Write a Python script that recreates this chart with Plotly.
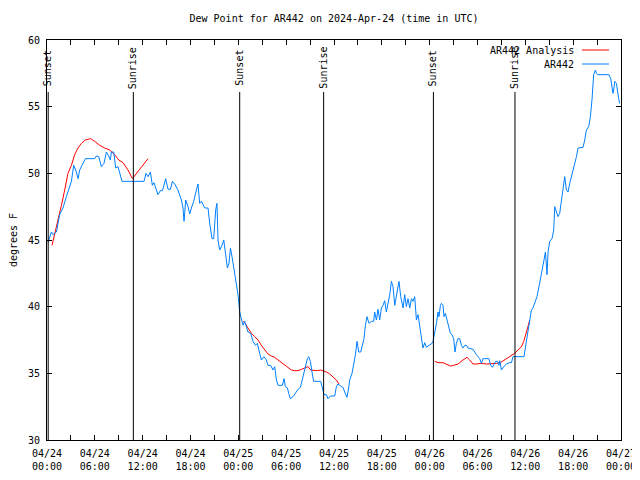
import pandas as pd
import plotly.graph_objects as go

START = pd.Timestamp("2024-04-24 00:00")

# AR442 observed dew point (hours since 04/24 00:00 UTC, degrees F)
obs_hours = [0.13, 0.55, 0.75, 1.18, 1.59, 2.0, 2.43, 2.85, 3.06, 3.35, 3.69, 3.89, 4.1, 4.39, 4.82, 5.98,
             6.2, 6.49, 6.82, 7.15, 7.45, 7.74, 7.95, 8.08, 8.37, 8.62, 8.91, 9.41, 12.17, 12.42, 12.67,
             12.97, 13.22, 13.42, 13.72, 13.92, 14.22, 14.48, 14.89, 15.18, 15.48, 15.73, 16.02, 16.43,
             16.86, 17.06, 17.19, 17.4, 17.69, 17.9, 18.11, 18.4, 18.74, 18.94, 19.15, 19.37, 19.78,
             20.2, 20.41, 20.7, 20.91, 21.16, 21.32, 21.45, 21.66, 21.95, 22.17, 22.42, 22.63, 22.83,
             23.01, 23.21, 23.55, 23.76, 23.96, 24.17, 24.39, 24.59, 24.8, 25.01, 25.21, 25.55, 25.84,
             26.14, 26.39, 26.68, 26.89, 27.22, 27.52, 27.72, 28.06, 28.35, 28.56, 28.78, 28.98, 29.53,
             29.73, 29.9, 30.16, 30.32, 30.53, 30.86, 31.2, 31.49, 31.79, 32.11, 32.33, 32.66, 32.83,
             33.04, 33.24, 33.45, 34.33, 34.55, 34.75, 35.05, 35.25, 35.55, 36.09, 36.3, 36.5, 36.93,
             37.13, 37.34, 37.63, 37.84, 37.97, 38.26, 38.51, 38.69, 38.89, 39.1, 39.35, 39.51, 39.76,
             39.94, 40.14, 40.39, 40.69, 40.98, 41.1, 41.32, 41.52, 41.73, 41.95, 42.15, 42.36, 42.57,
             42.77, 42.99, 43.2, 43.4, 43.62, 43.83, 44.03, 44.15, 44.37, 44.66, 44.87, 45.08, 45.28,
             45.5, 45.71, 45.91, 46.12, 46.34, 46.54, 46.75, 46.96, 47.16, 47.38, 47.59, 47.92, 48.22,
             48.42, 48.63, 48.85, 49.05, 49.17, 49.35, 49.47, 49.67, 49.8, 49.97, 50.17, 50.39, 50.6,
             50.8, 51.01, 51.18, 51.35, 51.56, 51.77, 51.98, 52.18, 52.4, 52.61, 52.81, 53.44, 53.86,
             54.28, 54.49, 54.69, 55.44, 55.66, 55.87, 56.07, 56.28, 56.5, 56.7, 56.79, 57.0, 57.29,
             57.63, 57.96, 58.26, 58.46, 59.84, 59.92, 60.13, 60.33, 60.55, 60.76, 60.96, 61.26, 61.46,
             61.68, 61.93, 62.14, 62.34, 62.52, 62.72, 62.85, 63.06, 63.35, 63.56, 63.69, 63.9, 64.1,
             64.31, 64.44, 64.73, 64.94, 65.15, 65.35, 65.57, 65.86, 66.11, 66.41, 66.61, 67.24, 67.45,
             67.66, 67.95, 68.16, 68.36, 68.57, 68.79, 68.91, 69.11, 70.49, 70.71, 70.87, 71.0, 71.12,
             71.21, 71.42, 71.55, 71.71, 71.83]
obs_values = [44.8, 45.6, 45.4, 45.6, 46.9, 47.4, 48.25, 49.0, 49.4, 50.6, 50.1, 49.6, 50.25, 50.6, 51.1, 51.1,
              51.3, 51.25, 50.5, 50.75, 51.6, 51.3, 51.0, 51.6, 51.6, 50.4, 50.5, 49.4, 49.4, 50.0, 49.75,
              50.1, 49.1, 49.3, 48.75, 48.4, 48.7, 48.7, 49.6, 48.8, 48.8, 49.4, 49.2, 48.75,
              48.0, 47.4, 46.4, 48.0, 47.5, 46.95, 47.4, 47.9, 48.75, 49.2, 47.75, 47.9, 47.4,
              47.4, 46.25, 45.1, 45.1, 47.25, 47.75, 45.0, 44.25, 44.6, 45.0, 43.75, 42.9, 43.25,
              44.4, 43.75, 42.5, 41.5, 40.9, 39.6, 39.0, 38.6, 38.9, 38.5, 38.1, 38.0, 37.4,
              37.1, 37.25, 36.5, 36.0, 36.25, 36.0, 35.6, 35.6, 35.25, 35.5, 34.5, 34.1, 34.1,
              34.6, 34.0, 33.9, 33.5, 33.1, 33.25, 33.55, 33.8, 33.95, 34.75, 35.5, 36.1, 36.25,
              35.9, 35.1, 34.4, 34.4, 33.95, 33.4, 33.4, 33.1, 33.3, 33.3, 34.0, 34.2, 34.0,
              33.95, 33.6, 33.2, 33.9, 34.5, 35.0, 35.75, 36.4, 37.4, 36.6, 36.6, 37.1, 37.6,
              38.6, 39.25, 38.75, 38.9, 38.9, 39.6, 39.0, 39.8, 39.0, 39.9, 40.1, 40.45, 39.6,
              40.25, 40.9, 41.9, 41.5, 40.1, 40.9, 41.4, 41.9, 40.75, 39.9, 40.9, 40.0, 40.6,
              39.9, 40.6, 40.4, 40.75, 39.0, 39.4, 38.5, 37.9, 36.9, 37.3, 36.95, 37.1, 37.2,
              37.4, 38.0, 38.75, 39.6, 39.25, 40.1, 40.25, 40.1, 39.25, 39.5, 39.0, 38.5, 38.0,
              37.9, 37.6, 36.6, 37.25, 37.6, 37.6, 37.1, 36.9, 37.1, 37.1, 36.9, 36.8, 36.4,
              36.1, 35.75, 36.1, 36.1, 35.6, 35.45, 35.7, 35.9, 35.9, 35.6, 35.95, 35.25, 35.5,
              35.7, 35.8, 35.8, 36.25, 36.25, 36.6, 37.4, 38.25, 39.0, 39.75, 39.9, 40.5, 40.75,
              41.4, 42.1, 42.9, 43.5, 44.1, 42.4, 44.1, 44.9, 45.1, 45.75, 47.5, 47.1, 46.75,
              47.0, 47.6, 49.0, 49.75, 48.75, 48.6, 49.25, 49.9, 50.5, 51.25, 51.9, 51.95, 52.5,
              53.25, 53.5, 54.25, 55.5, 57.4, 57.75, 57.5, 57.4, 57.4, 57.1, 56.5, 56.0, 56.4,
              56.9, 56.75, 56.0, 55.6, 55.25]

# AR442 Analysis (three separate runs, None = gap)
ana_hours = [0.63, 0.97, 1.38, 1.81, 2.22, 2.63, 3.06, 3.47, 3.89, 4.32, 4.82, 5.48, 5.98, 6.61, 7.24, 7.86,
             8.49, 8.99, 9.53, 10.16, 10.71, 11.21, 11.84, 12.67, None,
             24.59, 24.8, 25.21, 25.64, 26.05, 26.47, 26.89, 27.31, 27.72, 28.15, 28.56, 28.98, 29.4,
             29.82, 30.23, 30.66, 31.07, 31.49, 31.91, 32.33, 32.74, 33.08, 33.49, 33.92, 34.33, 34.62,
             35.05, 35.46, 35.88, 36.3, 36.63, None,
             48.63, 49.05, 49.67, 50.1, 50.6, 51.01, 51.56, 52.06, 52.68, 53.02, 53.44, 53.86, 54.49,
             55.12, 55.74, 56.37, 56.87, 57.41, 58.04, 58.66, 59.08, 59.51, 59.8, 60.13, 60.33, 60.55]
ana_values = [44.6, 45.4, 46.4, 47.6, 48.75, 50.0, 50.6, 51.4, 51.9, 52.25, 52.5, 52.6, 52.4, 52.1, 51.9, 51.75,
              51.4, 51.0, 50.8, 50.25, 49.6, 50.0, 50.5, 51.1, None,
              38.9, 38.8, 38.4, 38.0, 37.75, 37.5, 37.1, 36.75, 36.45, 36.3, 36.2, 36.0, 35.8,
              35.6, 35.4, 35.25, 35.2, 35.2, 35.3, 35.4, 35.5, 35.25, 35.2, 35.2, 35.25, 35.2,
              35.1, 34.95, 34.7, 34.5, 34.2, None,
              35.9, 35.8, 35.8, 35.7, 35.55, 35.6, 35.7, 35.95, 36.2, 36.0, 35.7, 35.7, 35.75,
              35.7, 35.7, 35.75, 35.8, 36.0, 36.25, 36.5, 36.75, 37.0, 37.4, 38.0, 38.5, 39.0]

# Sun events (hours since start)
sun_hours = [0.15, 10.83, 24.17, 34.7, 48.47, 58.7]
sun_labels = ["Sunset", "Sunrise", "Sunset", "Sunrise", "Sunset", "Sunrise"]

tick_hours = list(range(0, 73, 3))
tick_labels = ["04/24<br>00:00", "", "04/24<br>06:00", "", "04/24<br>12:00", "", "04/24<br>18:00", "",
               "04/25<br>00:00", "", "04/25<br>06:00", "", "04/25<br>12:00", "", "04/25<br>18:00", "",
               "04/26<br>00:00", "", "04/26<br>06:00", "", "04/26<br>12:00", "", "04/26<br>18:00", "",
               "04/27<br>00:00"]


def to_time(hours):
    return [None if h is None else START + pd.Timedelta(hours=h) for h in hours]


FONT = "DejaVu Sans Mono"
fig = go.Figure()
fig.add_trace(go.Scatter(x=to_time(ana_hours), y=ana_values, mode="lines",
                         line=dict(color="#ff0000", width=1), connectgaps=False,
                         name="AR442 Analysis", showlegend=False))
fig.add_trace(go.Scatter(x=to_time(obs_hours), y=obs_values, mode="lines",
                         line=dict(color="#0080ff", width=1), name="AR442", showlegend=False))

for h, lab in zip(sun_hours, sun_labels):
    t = START + pd.Timedelta(hours=h)
    fig.add_shape(type="line", xref="x", yref="paper", x0=t, x1=t, y0=0, y1=0.87,
                  line=dict(color="black", width=1))
    fig.add_annotation(x=t, y=0.93, xref="x", yref="paper", text=lab, textangle=-90,
                       showarrow=False, font=dict(family=FONT, size=10, color="black"),
                       xanchor="center", yanchor="middle")

# legend (gnuplot style: text then line sample)
for yp, name, col in [(0.975, "AR442 Analysis", "#ff0000"), (0.94, "AR442", "#0080ff")]:
    fig.add_annotation(x=0.922, y=yp, xref="paper", yref="paper", text=name, showarrow=False,
                       xanchor="right", yanchor="middle", font=dict(family=FONT, size=10, color="black"))
    fig.add_shape(type="line", xref="paper", yref="paper", x0=0.932, x1=0.979, y0=yp, y1=yp,
                  line=dict(color=col, width=1))

# page body adds an 8px offset; figure reaches the window's right edge, page height fits the window
fig.update_layout(
    width=632, height=464,
    margin=dict(l=39, r=19, t=32, b=32),
    paper_bgcolor="white", plot_bgcolor="white",
    title=dict(text="Dew Point for AR442 on 2024-Apr-24 (time in UTC)", x=0.5158, xanchor="center",
               y=0.9763, yanchor="middle", font=dict(family=FONT, size=10, color="black")),
    font=dict(family=FONT, size=10, color="black"),
)
fig.update_xaxes(range=[START, START + pd.Timedelta(hours=72)], tickmode="array",
                 tickvals=to_time(tick_hours), ticktext=tick_labels, automargin=False,
                 ticks="inside", ticklen=5, tickcolor="black", showgrid=False, zeroline=False,
                 showline=True, linecolor="black", linewidth=1, mirror="allticks",
                 ticklabelstandoff=4, ticklabeloverflow="allow",
                 tickfont=dict(family=FONT, size=10, color="black"))
fig.update_yaxes(range=[30, 60], tickmode="array", tickvals=[30, 35, 40, 45, 50, 55, 60],
                 ticktext=["30", "35", "40", "45", "50", "55", "60"], automargin=False,
                 ticks="inside", ticklen=5, tickcolor="black", showgrid=False, zeroline=False,
                 showline=True, linecolor="black", linewidth=1, mirror="allticks",
                 ticklabelstandoff=4,
                 title=dict(text="degrees F", font=dict(family=FONT, size=10, color="black"), standoff=10),
                 tickfont=dict(family=FONT, size=10, color="black"))

fig.write_html("out.html")
